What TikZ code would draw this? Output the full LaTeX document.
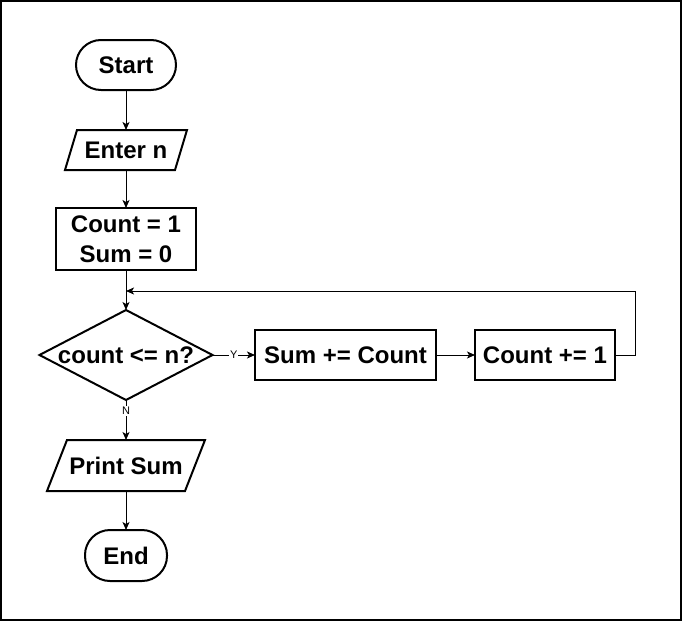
\documentclass[tikz,border=0pt]{standalone}
\usepackage{fontspec}
\setmainfont{Liberation Sans}
\usetikzlibrary{shapes.geometric,arrows.meta}
\begin{document}
\begin{tikzpicture}[x=1pt,y=-1pt,
  base/.style={draw, line width=2pt, font=\bfseries\fontsize{24}{30}\selectfont,
    align=center, inner sep=0pt, outer sep=0pt},
  terminal/.style={base, rectangle, rounded corners=25pt, minimum height=50pt},
  process/.style={base, rectangle, minimum height=50pt},
  % parallelogram: the node is its bounding box, the slanted outline is drawn below
  io/.style={base, draw=none, rectangle},
  ioline/.style={draw, line width=2pt, line join=miter},
  decision/.style={base, diamond, aspect=1.92, minimum width=173pt, minimum height=90pt},
  arrow/.style={line width=1pt, -{Stealth[length=8pt,width=7pt,inset=2pt]}},
  lbl/.style={font=\fontsize{11}{11}\selectfont, fill=white, inner sep=1pt}
]
\useasboundingbox (0,0) rectangle (682,621);
\draw[line width=2pt] (1,1) rectangle (681,620);

\node[terminal, minimum width=100pt] (start) at (126,65) {Start};
\node[io, minimum width=122pt, minimum height=40pt] (enter) at (126,150) {Enter n};
\node[process, minimum width=140pt, minimum height=62pt] (init) at (126,239) {Count = 1\\Sum = 0};
\node[decision] (cond) at (126,355) {count <= n?};
\node[process, minimum width=181pt] (sum) at (345.5,355) {Sum += Count};
\node[process, minimum width=140pt] (inc) at (545,355) {Count += 1};
\node[io, minimum width=158pt, minimum height=51pt] (print) at (126,465.5) {Print Sum};
\node[terminal, minimum width=82pt, minimum height=51pt] (end) at (126,555.5) {End};

% slanted outlines of the input/output nodes
\draw[ioline] (enter.south west) -- ([xshift=12pt]enter.north west)
  -- (enter.north east) -- ([xshift=-12pt]enter.south east) -- cycle;
\draw[ioline] (print.south west) -- ([xshift=20pt]print.north west)
  -- (print.north east) -- ([xshift=-20pt]print.south east) -- cycle;

\coordinate (loopin) at (126,291);
\coordinate (loopcorner) at (635,291);

\draw[arrow] (start) -- (enter);
\draw[arrow] (enter) -- (init);
\draw[arrow] (init) -- (cond);
\draw[arrow] (cond.east) -- node[lbl] {Y} (sum.west);
\draw[arrow] (sum) -- (inc);
\draw[arrow] (inc.east) -| (loopcorner) -- (loopin);
\draw[arrow] (cond.south) -- node[lbl, pos=0.28] {N} (print.north);
\draw[arrow] (print) -- (end);
\end{tikzpicture}
\end{document}
